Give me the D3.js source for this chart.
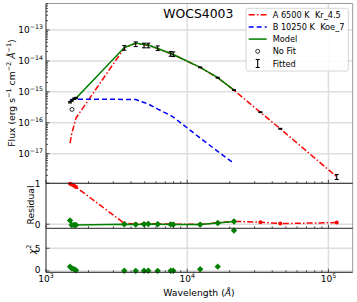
<!DOCTYPE html>
<html>
<head>
<meta charset="utf-8">
<script src="https://cdn.jsdelivr.net/npm/d3@7"></script>
<style>
  body { margin: 0; background: #fff; }
  text { font-family: "DejaVu Sans", sans-serif; fill: #000; white-space: pre; }
</style>
</head>
<body>
<svg id="chart" width="357" height="302"></svg>
<script>

// filter wavelengths in Angstrom (UV, optical, 2MASS, WISE)
const wave = [1480, 1520, 1580, 1630, 3585, 4320, 4945, 5300, 6180, 7640, 7970, 12350, 16450, 21450, 33000, 45600, 114500];
// observed flux (erg s-1 cm-2 A-1) and fractional error
const obsFlux = [4.6e-16, 5.2e-16, 6.0e-16, 6.3e-16, 2.67e-14, 3.52e-14, 3.2e-14, 3.2e-14, 2.61e-14, 1.71e-14, 1.67e-14, 6.2e-15, 2.86e-15, 1.14e-15, 2.2e-16, 6.4e-17, 1.79e-18];
const obsErr = [0.05, 0.05, 0.05, 0.05, 0.17, 0.17, 0.17, 0.17, 0.17, 0.17, 0.17, 0.03, 0.03, 0.03, 0.03, 0.03, 0.18];
// point not used in the fit
const noFitWave = [1528];
const noFitFlux = [2.7e-16];

// models (fitted range only for B and total)
const modelFlux = [4.4e-16, 5.2e-16, 5.85e-16, 6.2e-16, 2.7e-14, 3.79e-14, 3.4e-14, 3.27e-14, 2.52e-14, 1.73e-14, 1.61e-14, 6.2e-15, 2.86e-15, 1.14e-15];
const compAFlux = [2.2e-17, 4.3e-17, 8.4e-17, 1.42e-16, 2.61e-14, 3.74e-14, 3.36e-14, 3.23e-14, 2.49e-14, 1.71e-14, 1.6e-14, 6.17e-15, 2.84e-15, 1.13e-15, 2.17e-16, 6.4e-17, 1.79e-18];
const compBFlux = [5.6e-16, 5.7e-16, 5.75e-16, 5.75e-16, 5.7e-16, 5.6e-16, 4.5e-16, 4.03e-16, 2.77e-16, 1.71e-16, 1.53e-16, 3.2e-17, 1.19e-17, 4.8e-18];

// fractional residuals and chi2
const residModel = [0.09, -0.02, -0.02, -0.02, 0.0, -0.01, 0.0, 0.005, 0.0, -0.005, -0.01, -0.01, 0.03, 0.065];
const residA = [0.99, 0.97, 0.94, 0.91, 0.02, 0.005, 0.013, 0.017, 0.01, 0.005, 0.0, -0.005, 0.035, 0.07, 0.05, 0.015, 0.04];
const chi2 = [0.95, 0.6, 0.37, 0.15, 0.05, 0.02, 0.05, 0.05, 0.02, 0.05, 0.05, 0.37, 0.95, 8.9];

const xTicks = [1e3, 1e4, 1e5];
const xTickExp = ["3", "4", "5"];
const fluxTicks = [1e-13, 1e-14, 1e-15, 1e-16, 1e-17];
const fluxTickExp = ["\u221213", "\u221214", "\u221215", "\u221216", "\u221217"];
const residTicks = [0, 1];
const chiTicks = [0, 5];
const legendLabels = ["A 6500 K  Kr_4.5", "B 10250 K  Koe_7", "Model", "No Fit", "Fitted"];

const svg = d3.select("#chart");

let left = 46, right = 352.7;
let x = d3.scaleLog().domain([1000, 148600]).range([left, right]);
let yF = d3.scaleLog().domain([1.1e-18, 7.2e-13]).range([183.3, 3.5]);
let yR = d3.scaleLinear().domain([-0.1, 1.0]).range([228.3, 183.3]);
let yC = d3.scaleLinear().domain([-0.3, 9.4]).range([272.3, 228.3]);

const gridCol = "#dedede";

// minor log ticks
function logMinor(lo, hi) {
  let out = [];
  for (let e = Math.floor(Math.log10(lo)); e <= Math.ceil(Math.log10(hi)); e++) {
    for (let k = 2; k <= 9; k++) {
      let v = k * Math.pow(10, e);
      if (v > lo && v < hi) out.push(v);
    }
  }
  return out;
}

// ---- grid
let grid = svg.append("g");
grid.selectAll(".gy").data(fluxTicks).join("line")
  .attr("x1", left).attr("x2", right)
  .attr("y1", d => yF(d)).attr("y2", d => yF(d))
  .attr("stroke", gridCol).attr("stroke-width", 1.5);
grid.selectAll(".gr").data(residTicks).join("line")
  .attr("x1", left).attr("x2", right)
  .attr("y1", d => yR(d)).attr("y2", d => yR(d))
  .attr("stroke", gridCol).attr("stroke-width", 1.5);
grid.selectAll(".gc").data(chiTicks).join("line")
  .attr("x1", left).attr("x2", right)
  .attr("y1", d => yC(d)).attr("y2", d => yC(d))
  .attr("stroke", gridCol).attr("stroke-width", 1.5);
grid.selectAll(".gx").data(xTicks.slice(1)).join("line")
  .attr("x1", d => x(d)).attr("x2", d => x(d))
  .attr("y1", 3.5).attr("y2", 272.3)
  .attr("stroke", gridCol).attr("stroke-width", 1.5);

// ---- main panel curves
let idx = wave.map((d, i) => i);
let lineF = (vals) => d3.line().x((d, i) => x(wave[i])).y(d => yF(d))(vals);

svg.append("path")
  .attr("d", lineF(compAFlux))
  .attr("fill", "none").attr("stroke", "red").attr("stroke-width", 1.5)
  .attr("stroke-dasharray", "6,2.2,1.5,2.2");

svg.append("path")
  .attr("d", lineF(compBFlux))
  .attr("fill", "none").attr("stroke", "blue").attr("stroke-width", 1.5)
  .attr("stroke-dasharray", "5,3");

svg.append("path")
  .attr("d", lineF(modelFlux))
  .attr("fill", "none").attr("stroke", "green").attr("stroke-width", 1.5);

// fitted points as error bars
let eb = svg.append("g").attr("stroke", "#000").attr("stroke-width", 1.1);
idx.forEach(i => {
  let cx = x(wave[i]);
  let lo = yF(obsFlux[i] * (1 - obsErr[i])), hi = yF(obsFlux[i] * (1 + obsErr[i]));
  eb.append("line").attr("x1", cx).attr("x2", cx).attr("y1", lo).attr("y2", hi);
  eb.append("line").attr("x1", cx - 2).attr("x2", cx + 2).attr("y1", lo).attr("y2", lo);
  eb.append("line").attr("x1", cx - 2).attr("x2", cx + 2).attr("y1", hi).attr("y2", hi);
});

svg.selectAll(".nofit").data(noFitFlux).join("circle")
  .attr("cx", (d, i) => x(noFitWave[i])).attr("cy", d => yF(d)).attr("r", 2)
  .attr("fill", "none").attr("stroke", "#000").attr("stroke-width", 0.8);

// ---- residual panel
let diamond = (cx, cy, r) => `M${cx},${cy - r}L${cx + r},${cy}L${cx},${cy + r}L${cx - r},${cy}Z`;

svg.append("path")
  .attr("d", d3.line().x((d, i) => x(wave[i])).y(d => yR(d))(residA))
  .attr("fill", "none").attr("stroke", "red").attr("stroke-width", 1.5)
  .attr("stroke-dasharray", "6,2.2,1.5,2.2");
svg.selectAll(".ra").data(residA).join("circle")
  .attr("cx", (d, i) => x(wave[i])).attr("cy", d => yR(d)).attr("r", 2)
  .attr("fill", "red");

svg.append("path")
  .attr("d", d3.line().x((d, i) => x(wave[i])).y(d => yR(d))(residModel))
  .attr("fill", "none").attr("stroke", "green").attr("stroke-width", 1.5);
svg.selectAll(".rm").data(residModel).join("path")
  .attr("d", (d, i) => diamond(x(wave[i]), yR(d), 3.2))
  .attr("fill", "green");

// ---- chi2 panel
svg.selectAll(".cm").data(chi2).join("path")
  .attr("d", (d, i) => diamond(x(wave[i]), yC(d), 3.2))
  .attr("fill", "green");

// ---- spines and ticks
let sp = svg.append("g").attr("stroke-width", 1);
sp.append("line").attr("x1", left).attr("x2", right).attr("y1", 3.5).attr("y2", 3.5).attr("stroke", "#999");
sp.append("line").attr("x1", right).attr("x2", right).attr("y1", 3.5).attr("y2", 272.3).attr("stroke", "#999");
sp.append("line").attr("x1", left).attr("x2", left).attr("y1", 3.5).attr("y2", 272.3).attr("stroke", "#222");
[183.3, 228.3, 272.3].forEach(yy => {
  sp.append("line").attr("x1", left).attr("x2", right).attr("y1", yy).attr("y2", yy).attr("stroke", "#222");
});

let ticks = svg.append("g").attr("stroke", "#222").attr("stroke-width", 0.8);
let xMinor = logMinor(1000, 148600);
[183.3, 228.3, 272.3].forEach(yy => {
  ticks.selectAll(null).data(xTicks).join("line")
    .attr("x1", d => x(d)).attr("x2", d => x(d)).attr("y1", yy).attr("y2", yy - 3.5);
  ticks.selectAll(null).data(xMinor).join("line")
    .attr("x1", d => x(d)).attr("x2", d => x(d)).attr("y1", yy).attr("y2", yy - 2);
});
ticks.selectAll(null).data(fluxTicks).join("line")
  .attr("x1", left).attr("x2", left + 3.5).attr("y1", d => yF(d)).attr("y2", d => yF(d));
ticks.selectAll(null).data(logMinor(1.1e-18, 7.2e-13)).join("line")
  .attr("x1", left).attr("x2", left + 2).attr("y1", d => yF(d)).attr("y2", d => yF(d));
ticks.selectAll(null).data(residTicks).join("line")
  .attr("x1", left).attr("x2", left + 3.5).attr("y1", d => yR(d)).attr("y2", d => yR(d));
ticks.selectAll(null).data(chiTicks).join("line")
  .attr("x1", left).attr("x2", left + 3.5).attr("y1", d => yC(d)).attr("y2", d => yC(d));

// ---- tick labels
let fs = 9;
fluxTicks.forEach((v, i) => {
  let t = svg.append("text").attr("x", 43).attr("y", yF(v) + 3.3)
    .attr("text-anchor", "end").attr("font-size", fs);
  t.append("tspan").text("10");
  t.append("tspan").attr("dy", -4).attr("font-size", 6.3).text(fluxTickExp[i]);
});
xTicks.forEach((v, i) => {
  let t = svg.append("text").attr("x", x(v)).attr("y", 282)
    .attr("text-anchor", "middle").attr("font-size", fs);
  t.append("tspan").text("10");
  t.append("tspan").attr("dy", -3.6).attr("font-size", 6.3).text(xTickExp[i]);
});
svg.selectAll(".rl").data(residTicks).join("text")
  .attr("x", 40.5).attr("y", d => yR(d) + 3.3).attr("text-anchor", "end")
  .attr("font-size", fs).text(d => d);
svg.selectAll(".cl").data(chiTicks).join("text")
  .attr("x", 40.5).attr("y", d => yC(d) + (d === 0 ? 2.4 : 3.3)).attr("text-anchor", "end")
  .attr("font-size", fs).text(d => d);

// ---- axis titles
let yl = svg.append("text").attr("transform", "translate(14.5,93) rotate(-90)")
  .attr("text-anchor", "middle").attr("font-size", 9.25);
yl.append("tspan").text("Flux (erg s");
yl.append("tspan").attr("dy", -3.6).attr("font-size", 6.5).text("\u22121");
yl.append("tspan").attr("dy", 3.6).text(" cm");
yl.append("tspan").attr("dy", -3.6).attr("font-size", 6.5).text("\u22122");
yl.append("tspan").attr("dy", 3.6).attr("font-style", "italic").text(" \u00c5");
yl.append("tspan").attr("dy", -3.6).attr("font-size", 6.5).text("\u22121");
yl.append("tspan").attr("dy", 3.6).text(")");

svg.append("text").attr("transform", "translate(34,205) rotate(-90)")
  .attr("text-anchor", "middle").attr("font-size", 9.25).text("Residual");

let cl = svg.append("text").attr("transform", "translate(35,249.5) rotate(-90)")
  .attr("text-anchor", "middle").attr("font-size", 9.25);
cl.append("tspan").attr("font-style", "italic").text("\u03c7");
cl.append("tspan").attr("dy", -4).attr("font-size", 6.5).text("2");

let xl = svg.append("text").attr("x", 199).attr("y", 295.5)
  .attr("text-anchor", "middle").attr("font-size", 9.25);
xl.append("tspan").text("Wavelength (");
xl.append("tspan").attr("font-style", "italic").text("\u00c5");
xl.append("tspan").text(")");

// ---- title
svg.append("text").attr("x", 163.3).attr("y", 18.3).attr("font-size", 12.4).text("WOCS4003");

// ---- legend
let lg = svg.append("g");
lg.append("rect").attr("x", 246).attr("y", 8.3).attr("width", 102.3).attr("height", 62.7)
  .attr("rx", 2).attr("fill", "#fff").attr("fill-opacity", 0.85)
  .attr("stroke", "#ccc").attr("stroke-width", 0.8);
let rowY = (i) => 14.7 + i * 12.2;
lg.append("line").attr("x1", 248.7).attr("x2", 266.7).attr("y1", rowY(0)).attr("y2", rowY(0))
  .attr("stroke", "red").attr("stroke-width", 1.5).attr("stroke-dasharray", "6,2.2,1.5,2.2");
lg.append("line").attr("x1", 248.7).attr("x2", 266.7).attr("y1", rowY(1)).attr("y2", rowY(1))
  .attr("stroke", "blue").attr("stroke-width", 1.5).attr("stroke-dasharray", "5,3");
lg.append("line").attr("x1", 248.7).attr("x2", 266.7).attr("y1", rowY(2)).attr("y2", rowY(2))
  .attr("stroke", "green").attr("stroke-width", 1.5);
lg.append("circle").attr("cx", 257.7).attr("cy", rowY(3)).attr("r", 2)
  .attr("fill", "none").attr("stroke", "#000").attr("stroke-width", 0.8);
let fy = rowY(4);
lg.append("line").attr("x1", 257.7).attr("x2", 257.7).attr("y1", fy - 4).attr("y2", fy + 4).attr("stroke", "#000").attr("stroke-width", 1.1);
lg.append("line").attr("x1", 255.7).attr("x2", 259.7).attr("y1", fy - 4).attr("y2", fy - 4).attr("stroke", "#000").attr("stroke-width", 1.1);
lg.append("line").attr("x1", 255.7).attr("x2", 259.7).attr("y1", fy + 4).attr("y2", fy + 4).attr("stroke", "#000").attr("stroke-width", 1.1);
lg.selectAll(".lt").data(legendLabels).join("text")
  .attr("x", 272.7).attr("y", (d, i) => rowY(i) + 3).attr("font-size", 8.2).text(d => d);

</script>
</body>
</html>
